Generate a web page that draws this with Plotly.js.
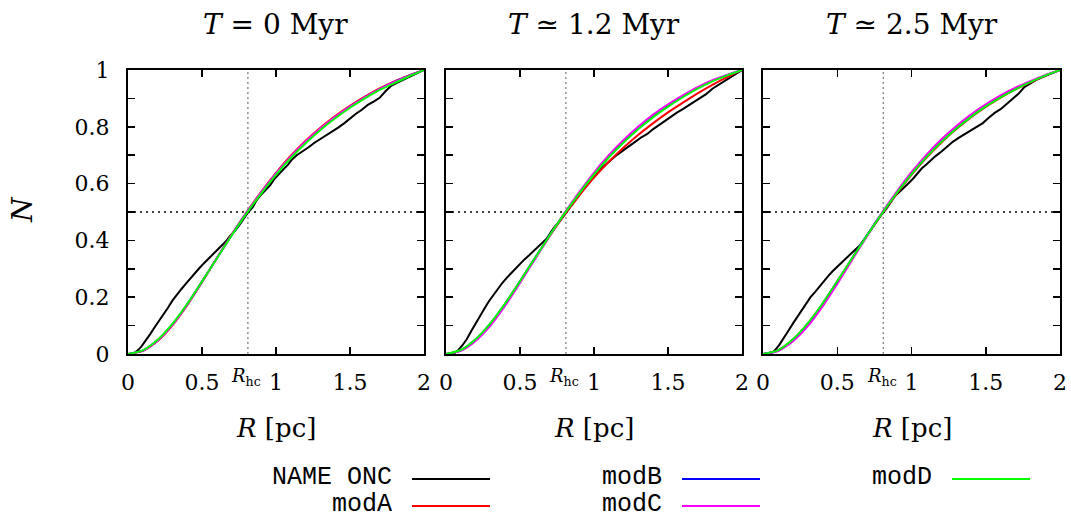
<!DOCTYPE html>
<html>
<head>
<meta charset="utf-8">
<script src="https://cdn.plot.ly/plotly-3.0.1.min.js"></script>
<style>html,body{margin:0;padding:0;background:#fff;}#plot{width:1071px;height:517px;}</style>
</head>
<body>
<div id="plot"></div>
<script>
// ---------- data ----------
const panelTitles = ["<i>T</i> = 0 Myr", "<i>T</i> \u2243 1.2 Myr", "<i>T</i> \u2243 2.5 Myr"];
const seriesNames = ["NAME ONC", "modA", "modB", "modC", "modD"];
const seriesColors = ["#000000", "#ff0000", "#0000ff", "#ff00ff", "#00ff00"];
const xTickVals = [0, 0.5, 1, 1.5, 2];
const xTickText = ["0", "0.5", "1", "1.5", "2"];
const yTickVals = [0, 0.2, 0.4, 0.6, 0.8, 1.0];
const yTickText = ["0", "0.2", "0.4", "0.6", "0.8", "1"];
const yMinorStep = 0.1;
const Rhc = 0.81;
const Nhalf = 0.5;

// model curves sampled on a common R grid
const R_model = [0, 0.1, 0.2, 0.3, 0.4, 0.5, 0.6, 0.7, 0.8, 0.9, 1.0, 1.1, 1.2, 1.3, 1.4, 1.5, 1.6, 1.7, 1.8, 1.9, 2.0];

const modA_T0 = [0, 0.011, 0.046, 0.101, 0.172, 0.253, 0.337, 0.420, 0.498, 0.571, 0.638, 0.698, 0.751, 0.797, 0.838, 0.874, 0.906, 0.935, 0.960, 0.981, 1.0];
const modB_T0 = [0, 0.012, 0.048, 0.104, 0.175, 0.255, 0.337, 0.418, 0.496, 0.567, 0.634, 0.693, 0.745, 0.792, 0.833, 0.870, 0.903, 0.932, 0.958, 0.980, 1.0];
const modC_T0 = [0, 0.012, 0.048, 0.103, 0.174, 0.254, 0.337, 0.419, 0.497, 0.569, 0.636, 0.695, 0.748, 0.794, 0.835, 0.871, 0.904, 0.933, 0.958, 0.980, 1.0];
const modD_T0 = [0, 0.013, 0.050, 0.106, 0.176, 0.255, 0.336, 0.417, 0.494, 0.565, 0.631, 0.690, 0.742, 0.789, 0.830, 0.867, 0.900, 0.930, 0.954, 0.978, 1.0];

const modA_T1 = [0, 0.013, 0.050, 0.106, 0.176, 0.255, 0.336, 0.415, 0.490, 0.558, 0.621, 0.677, 0.727, 0.772, 0.813, 0.851, 0.885, 0.918, 0.948, 0.975, 1.0];
const modB_T1 = [0, 0.013, 0.051, 0.107, 0.177, 0.256, 0.337, 0.417, 0.494, 0.566, 0.633, 0.693, 0.747, 0.794, 0.836, 0.873, 0.906, 0.936, 0.962, 0.982, 1.0];
const modC_T1 = [0, 0.011, 0.046, 0.100, 0.170, 0.250, 0.333, 0.416, 0.496, 0.570, 0.639, 0.700, 0.754, 0.801, 0.843, 0.879, 0.911, 0.940, 0.964, 0.983, 1.0];
const modD_T1 = [0, 0.014, 0.052, 0.108, 0.178, 0.256, 0.337, 0.417, 0.494, 0.565, 0.632, 0.692, 0.745, 0.792, 0.834, 0.871, 0.904, 0.934, 0.960, 0.981, 1.0];

const modA_T2 = [0, 0.013, 0.050, 0.106, 0.176, 0.255, 0.336, 0.416, 0.493, 0.564, 0.631, 0.691, 0.744, 0.791, 0.833, 0.870, 0.903, 0.932, 0.956, 0.979, 1.0];
const modB_T2 = [0, 0.012, 0.049, 0.105, 0.175, 0.255, 0.337, 0.418, 0.495, 0.567, 0.634, 0.694, 0.747, 0.794, 0.836, 0.873, 0.906, 0.934, 0.958, 0.980, 1.0];
const modC_T2 = [0, 0.010, 0.044, 0.097, 0.167, 0.247, 0.331, 0.415, 0.496, 0.571, 0.640, 0.701, 0.755, 0.802, 0.843, 0.879, 0.911, 0.938, 0.961, 0.982, 1.0];
const modD_T2 = [0, 0.013, 0.051, 0.107, 0.177, 0.256, 0.337, 0.417, 0.494, 0.566, 0.633, 0.693, 0.746, 0.793, 0.835, 0.872, 0.904, 0.932, 0.957, 0.980, 1.0];

// observed ONC cumulative curves
const R_onc_T0 = [0.03, 0.06, 0.09, 0.12, 0.15, 0.18, 0.21, 0.24, 0.27, 0.30, 0.33, 0.36, 0.39, 0.42, 0.45, 0.48, 0.51, 0.54, 0.57, 0.60, 0.63, 0.66, 0.69, 0.72, 0.75, 0.78, 0.81, 0.84, 0.87, 0.90, 0.93, 0.96, 0.99, 1.02, 1.05, 1.08, 1.11, 1.14, 1.18, 1.22, 1.26, 1.30, 1.34, 1.38, 1.42, 1.46, 1.50, 1.54, 1.58, 1.62, 1.66, 1.70, 1.74, 1.78, 1.82, 1.86, 1.90, 1.95, 2.0];
const N_onc_T0 = [0, 0.010, 0.026, 0.046, 0.070, 0.094, 0.116, 0.140, 0.163, 0.188, 0.210, 0.228, 0.247, 0.266, 0.284, 0.301, 0.318, 0.334, 0.351, 0.366, 0.381, 0.396, 0.416, 0.432, 0.452, 0.476, 0.498, 0.515, 0.542, 0.561, 0.576, 0.594, 0.617, 0.632, 0.650, 0.666, 0.686, 0.700, 0.713, 0.728, 0.744, 0.757, 0.770, 0.782, 0.797, 0.812, 0.830, 0.846, 0.860, 0.877, 0.889, 0.902, 0.925, 0.945, 0.956, 0.966, 0.977, 0.989, 1.0];

const R_onc_T1 = [0.05, 0.08, 0.11, 0.14, 0.17, 0.20, 0.23, 0.26, 0.29, 0.32, 0.35, 0.38, 0.41, 0.44, 0.47, 0.50, 0.53, 0.56, 0.59, 0.62, 0.65, 0.68, 0.71, 0.74, 0.77, 0.80, 0.83, 0.86, 0.89, 0.92, 0.95, 0.98, 1.01, 1.04, 1.07, 1.10, 1.13, 1.16, 1.20, 1.24, 1.28, 1.32, 1.36, 1.40, 1.44, 1.48, 1.52, 1.56, 1.60, 1.64, 1.68, 1.72, 1.76, 1.80, 1.84, 1.88, 1.92, 1.96, 2.0];
const N_onc_T1 = [0, 0.012, 0.030, 0.052, 0.080, 0.108, 0.136, 0.160, 0.186, 0.208, 0.229, 0.250, 0.268, 0.285, 0.302, 0.318, 0.333, 0.347, 0.361, 0.375, 0.389, 0.406, 0.430, 0.452, 0.468, 0.489, 0.511, 0.531, 0.556, 0.574, 0.593, 0.612, 0.631, 0.650, 0.663, 0.678, 0.690, 0.703, 0.717, 0.734, 0.748, 0.763, 0.775, 0.792, 0.807, 0.822, 0.836, 0.850, 0.862, 0.876, 0.888, 0.901, 0.916, 0.934, 0.947, 0.958, 0.972, 0.986, 1.0];

const R_onc_T2 = [0.05, 0.08, 0.11, 0.14, 0.17, 0.20, 0.23, 0.26, 0.29, 0.32, 0.35, 0.38, 0.41, 0.44, 0.47, 0.50, 0.53, 0.56, 0.59, 0.62, 0.65, 0.68, 0.71, 0.74, 0.77, 0.80, 0.83, 0.86, 0.89, 0.92, 0.95, 0.98, 1.01, 1.04, 1.07, 1.10, 1.13, 1.16, 1.20, 1.24, 1.28, 1.32, 1.36, 1.40, 1.44, 1.48, 1.52, 1.56, 1.60, 1.64, 1.68, 1.72, 1.76, 1.80, 1.84, 1.88, 1.92, 1.96, 2.0];
const N_onc_T2 = [0, 0.013, 0.032, 0.055, 0.081, 0.106, 0.130, 0.155, 0.178, 0.200, 0.218, 0.238, 0.257, 0.275, 0.292, 0.308, 0.323, 0.337, 0.352, 0.366, 0.381, 0.402, 0.425, 0.448, 0.467, 0.492, 0.511, 0.534, 0.557, 0.571, 0.585, 0.601, 0.617, 0.637, 0.654, 0.667, 0.682, 0.696, 0.712, 0.731, 0.748, 0.762, 0.774, 0.786, 0.799, 0.813, 0.832, 0.849, 0.862, 0.880, 0.896, 0.916, 0.940, 0.954, 0.965, 0.975, 0.984, 0.992, 1.0];

// ---------- assembly ----------
const panels = [
  {onc: [R_onc_T0, N_onc_T0], mods: [modA_T0, modB_T0, modC_T0, modD_T0]},
  {onc: [R_onc_T1, N_onc_T1], mods: [modA_T1, modB_T1, modC_T1, modD_T1]},
  {onc: [R_onc_T2, N_onc_T2], mods: [modA_T2, modB_T2, modC_T2, modD_T2]}
];

const W = 1071, H = 517;
const px = v => v / W;
const py = v => 1 - v / H;
const xDomains = [[128, 424], [446, 742], [763, 1060]];
const yDomain = [py(354), py(70)];

const serif = "DejaVu Serif, Liberation Serif, serif";
const traces = [];
const shapes = [];
const annotations = [];
const layout = {
  width: W, height: H,
  margin: {l: 0, r: 0, t: 0, b: 0},
  paper_bgcolor: "#ffffff", plot_bgcolor: "#ffffff",
  showlegend: false,
  font: {family: serif, color: "#000"}
};

panels.forEach((p, i) => {
  const sx = i === 0 ? "" : String(i + 1);
  const xa = "x" + sx, ya = "y" + sx;
  traces.push({x: p.onc[0], y: p.onc[1], xaxis: xa, yaxis: ya, mode: "lines",
    name: seriesNames[0], line: {color: seriesColors[0], width: 2}});
  p.mods.forEach((m, k) => {
    traces.push({x: R_model, y: m, xaxis: xa, yaxis: ya, mode: "lines",
      name: seriesNames[k + 1], line: {color: seriesColors[k + 1], width: 2, shape: "spline", smoothing: 0.6}});
  });
  const common = {showline: true, linecolor: "#000", linewidth: 2, mirror: "ticks",
    ticks: "inside", ticklen: 7, tickwidth: 1.5, tickcolor: "#000",
    showgrid: false, zeroline: false, fixedrange: true,
    tickfont: {family: serif, size: 22, color: "#000"}};
  layout["xaxis" + sx] = Object.assign({}, common, {domain: [px(xDomains[i][0]), px(xDomains[i][1])],
    range: [0, 2], tickmode: "array", tickvals: xTickVals, ticktext: xTickText, anchor: ya, ticklabelstandoff: 8});
  layout["yaxis" + sx] = Object.assign({}, common, {domain: yDomain, range: [0, 1],
    tickmode: "array", tickvals: yTickVals, ticktext: yTickText, anchor: xa,
    minor: {dtick: yMinorStep, ticks: "inside", ticklen: 7, tickwidth: 1.5, tickcolor: "#000", showgrid: false},
    showticklabels: i === 0, ticklabelstandoff: 12});

  shapes.push({type: "line", xref: xa, yref: ya, x0: Rhc, x1: Rhc, y0: 0, y1: 1,
    line: {color: "#808080", width: 1.3, dash: "2px,3px"}, layer: "below"});
  shapes.push({type: "line", xref: xa, yref: ya, x0: 0, x1: 2, y0: Nhalf, y1: Nhalf,
    line: {color: "#000", width: 1.3, dash: "2px,4px"}, layer: "below"});

  const cx = (xDomains[i][0] + xDomains[i][1]) / 2;
  annotations.push({text: panelTitles[i], xref: "paper", yref: "paper", x: px(cx), y: py(24),
    xanchor: "center", yanchor: "middle", showarrow: false, font: {family: serif, size: 28}});
  annotations.push({text: "<i>R</i> [pc]", xref: "paper", yref: "paper", x: px(cx), y: py(428),
    xanchor: "center", yanchor: "middle", showarrow: false, font: {family: serif, size: 26}});
  annotations.push({text: "<i>R</i><sub>hc</sub>", xref: xa, yref: "paper", x: Rhc - 0.01, y: py(377),
    xanchor: "center", yanchor: "middle", showarrow: false, font: {family: serif, size: 18}});
});

annotations.push({text: "<i>N</i>", xref: "paper", yref: "paper", x: px(23), y: py(210),
  xanchor: "center", yanchor: "middle", textangle: -90, showarrow: false, font: {family: serif, size: 28}});

// legend (drawn manually, gnuplot style: right-aligned name then sample line)
const legRight = [393, 393, 663, 663, 933];
const legRowY = [477, 504, 477, 504, 477];
seriesNames.forEach((nm, k) => {
  annotations.push({text: nm, xref: "paper", yref: "paper", x: px(legRight[k]), y: py(legRowY[k]),
    xanchor: "right", yanchor: "middle", showarrow: false, borderpad: 0, height: 26, valign: "middle",
    font: {family: "Liberation Mono, DejaVu Sans Mono, monospace", size: 25, color: "#000"}});
  shapes.push({type: "line", xref: "paper", yref: "paper",
    x0: px(legRight[k] + 19), x1: px(legRight[k] + 97), y0: py(legRowY[k] + 2), y1: py(legRowY[k] + 2),
    line: {color: seriesColors[k], width: 2}});
});

layout.shapes = shapes;
layout.annotations = annotations;
Plotly.newPlot("plot", traces, layout, {staticPlot: true, displayModeBar: false});
</script>
</body>
</html>
